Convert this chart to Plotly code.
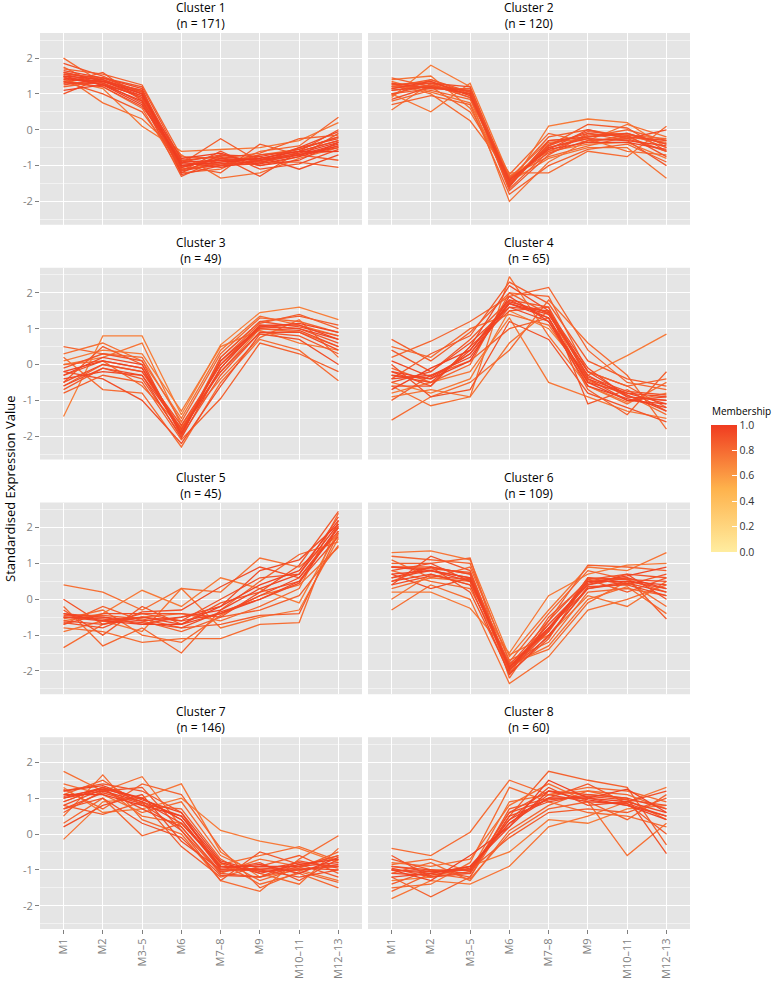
import plotly.graph_objects as go
from plotly.subplots import make_subplots
from plotly.colors import sample_colorscale

# ---------------- data ----------------
categories = ["M1", "M2", "M3\u20135", "M6", "M7\u20138", "M9", "M10\u201311", "M12\u201313"]
cluster_sizes = [171, 120, 49, 65, 45, 109, 146, 60]

cluster1_profiles = [
    [1.45, 1.35, 0.95, -1.0, -0.85, -0.8, -0.6, -0.3],
    [1.6, 1.4, 1.05, -0.9, -0.7, -0.9, -0.7, -0.45],
    [2.0, 1.3, 0.9, -1.1, -0.9, -0.7, -0.55, -0.2],
    [1.0, 1.45, 1.2, -0.85, -1.0, -0.85, -0.65, -0.6],
    [1.3, 1.6, 0.8, -1.3, -0.8, -1.0, -0.75, -0.1],
    [1.75, 1.2, 0.6, -1.2, -1.1, -0.6, -0.45, 0.35],
    [1.5, 0.75, 0.3, -0.7, -1.35, -1.2, -0.8, -0.5],
    [1.2, 1.35, 1.1, -0.95, -0.25, -0.9, -0.9, -1.05],
    [1.85, 1.5, 1.0, -1.05, -0.75, -1.3, -0.6, 0.0],
    [1.4, 1.15, 0.1, -0.6, -0.55, -0.5, -0.3, 0.2],
    [1.55, 1.3, 0.75, -1.15, -0.95, -0.75, -1.1, -0.7],
    [1.1, 1.25, 0.95, -0.8, -0.65, -1.0, -0.85, -0.35],
    [1.65, 1.45, 1.15, -1.25, -1.0, -0.95, -0.5, -0.25],
    [1.35, 1.0, 0.5, -1.0, -1.2, -0.4, -0.7, -0.85],
    [1.7, 1.55, 1.25, -0.75, -0.8, -0.65, -0.25, -0.15],
    [1.25, 1.4, 0.85, -1.15, -0.6, -1.1, -0.95, -0.55],
    [1.5, 1.25, 0.7, -0.9, -1.05, -0.85, -0.7, -0.4],
    [1.4, 1.35, 1.0, -1.0, -0.9, -0.8, -0.6, -0.6],
    [1.5, 1.4, 1.0, -1.05, -0.8, -0.85, -0.65, -0.35],
    [1.3, 1.3, 0.9, -0.95, -0.95, -0.9, -0.7, -0.5],
    [1.6, 1.35, 1.1, -1.2, -0.7, -0.75, -0.55, -0.2],
    [1.45, 1.25, 0.8, -0.9, -0.85, -0.95, -0.75, -0.45],
    [1.55, 1.45, 1.05, -1.1, -1.0, -0.7, -0.6, -0.3],
    [1.35, 1.2, 0.65, -0.85, -0.75, -0.85, -0.5, -0.05],
]
cluster1_membership = [0.95, 0.92, 0.8, 0.9, 0.88, 0.82, 0.78, 0.85, 0.9, 0.75,
                       0.93, 0.97, 0.94, 0.86, 0.84, 0.91, 0.98, 0.99,
                       0.97, 0.96, 0.95, 0.98, 0.93, 0.94]

cluster2_profiles = [
    [1.1, 1.25, 1.0, -1.5, -0.5, -0.2, -0.1, -0.4],
    [1.45, 1.2, 1.1, -1.4, -0.2, 0.0, -0.2, -0.6],
    [0.55, 1.3, 0.9, -2.0, -0.9, -0.3, 0.15, -0.2],
    [1.0, 0.5, 1.3, -1.3, -0.6, -0.4, -0.35, -0.8],
    [0.9, 1.8, 1.2, -1.6, 0.1, 0.3, 0.2, -0.5],
    [1.3, 1.0, 0.25, -1.2, -1.2, -0.6, -0.75, 0.1],
    [1.2, 1.4, 1.05, -1.7, -0.7, -0.1, -0.3, -1.0],
    [0.8, 1.1, 0.85, -1.35, -0.3, -0.2, 0.0, -0.3],
    [1.4, 1.5, 0.6, -1.45, -0.8, -0.5, -0.5, -1.35],
    [1.0, 1.15, 1.15, -1.55, -0.45, 0.15, 0.05, -0.6],
    [1.25, 1.35, 0.95, -1.25, -0.1, -0.35, -0.15, -0.25],
    [0.7, 0.95, 0.7, -1.8, -1.0, -0.55, -0.4, -0.9],
    [1.15, 1.3, 1.2, -1.4, -0.55, 0.0, -0.25, 0.0],
    [1.35, 1.05, 0.75, -1.5, -0.35, -0.25, -0.6, -0.7],
    [0.95, 1.4, 1.0, -1.65, -0.6, -0.15, -0.1, -0.5],
    [1.2, 1.2, 0.5, -1.3, -0.75, -0.45, -0.2, -0.35],
    [1.1, 1.2, 1.0, -1.45, -0.5, -0.25, -0.3, -0.45],
    [1.25, 1.3, 1.05, -1.55, -0.4, -0.1, -0.2, -0.3],
    [1.0, 1.25, 0.9, -1.35, -0.65, -0.3, -0.25, -0.6],
    [1.3, 1.15, 1.1, -1.6, -0.3, -0.2, -0.1, -0.4],
    [1.15, 1.35, 0.95, -1.4, -0.55, -0.35, -0.35, -0.55],
    [0.85, 1.2, 1.0, -1.5, -0.45, -0.05, -0.15, -0.75],
]
cluster2_membership = [0.9, 0.85, 0.78, 0.76, 0.74, 0.8, 0.88, 0.83, 0.77, 0.86,
                       0.82, 0.84, 0.92, 0.79, 0.87, 0.81,
                       0.95, 0.93, 0.9, 0.94, 0.96, 0.91]

cluster3_profiles = [
    [-0.3, 0.1, -0.1, -1.8, 0.0, 1.1, 1.0, 0.6],
    [0.5, 0.3, 0.2, -1.6, 0.3, 1.3, 1.2, 0.9],
    [-0.7, -0.1, -0.4, -2.0, -0.3, 0.9, 0.8, 0.3],
    [-1.45, 0.8, 0.8, -1.4, 0.55, 1.45, 1.6, 1.25],
    [0.2, -0.7, -0.8, -2.3, -0.5, 0.7, 0.4, -0.45],
    [-0.5, 0.5, 0.0, -1.9, 0.2, 1.2, 1.35, 1.1],
    [0.0, 0.2, 0.6, -1.7, -0.2, 1.0, 0.9, 0.5],
    [-0.8, -0.3, -0.5, -2.1, -0.95, 0.6, 0.3, -0.2],
    [0.3, 0.6, 0.1, -1.5, 0.4, 1.35, 1.1, 0.8],
    [-0.2, -0.4, -1.0, -2.2, -0.6, 0.85, 0.7, 0.0],
    [-0.6, 0.0, -0.2, -1.85, 0.1, 1.15, 1.4, 1.0],
    [0.1, 0.4, 0.3, -1.3, 0.5, 0.95, 0.6, 0.4],
    [-0.4, -0.2, -0.3, -2.05, -0.1, 1.05, 1.0, 0.7],
    [0.0, 0.1, -0.6, -1.75, -0.4, 0.75, 1.25, 0.2],
    [-0.3, 0.2, 0.0, -1.9, -0.1, 1.1, 1.1, 0.7],
    [-0.5, 0.0, -0.2, -1.7, 0.0, 1.0, 0.95, 0.5],
    [-0.1, 0.3, 0.1, -2.0, 0.2, 1.2, 1.05, 0.8],
    [-0.6, -0.1, -0.3, -1.8, -0.2, 0.9, 0.9, 0.4],
    [-0.2, 0.1, -0.1, -1.95, 0.1, 1.05, 1.15, 0.9],
]
cluster3_membership = [0.9, 0.82, 0.88, 0.72, 0.8, 0.86, 0.76, 0.84, 0.78, 0.92,
                       0.85, 0.74, 0.95, 0.8,
                       0.96, 0.93, 0.9, 0.94, 0.97]

cluster4_profiles = [
    [-0.3, -0.4, 0.3, 1.6, 1.2, -0.4, -0.8, -0.9],
    [0.7, 0.1, 0.9, 2.0, 1.4, -0.2, -0.6, -1.2],
    [-1.55, -0.9, -0.5, 0.4, 1.8, 0.6, -0.3, -1.8],
    [-0.6, -1.15, -0.9, 2.45, 0.8, -0.6, -1.1, -0.5],
    [0.2, 0.65, 1.2, 1.9, 2.15, 0.4, -0.5, -0.7],
    [-0.8, -0.5, -0.2, 1.3, -0.5, -0.9, -1.3, -1.5],
    [-0.2, -0.6, 0.5, 2.2, 1.5, -0.1, -0.9, -1.0],
    [-1.0, -0.3, 0.1, 1.0, 1.3, -0.7, -1.4, -0.2],
    [0.4, -0.2, 0.7, 1.8, 1.6, -1.1, -0.7, -1.3],
    [-0.5, -0.8, -0.4, 1.5, 1.0, -0.3, 0.25, 0.85],
    [-0.4, 0.3, 0.8, 2.3, 1.7, 0.1, -0.4, -0.6],
    [0.0, -0.9, -0.7, 1.2, 0.7, -0.8, -1.2, -1.6],
    [-0.7, -0.1, 0.4, 1.7, 1.3, -0.5, -1.0, -1.1],
    [-0.1, -0.5, 0.0, 2.0, 1.9, -0.2, -0.6, -0.4],
    [0.5, 0.2, 1.0, 1.4, 1.1, -0.45, -0.85, -1.4],
    [-0.9, -0.7, -0.9, 0.6, 1.5, -0.6, -1.05, -0.8],
    [-0.4, -0.3, 0.2, 1.7, 1.4, -0.3, -0.9, -1.0],
    [-0.3, -0.5, 0.4, 1.8, 1.3, -0.5, -0.8, -1.1],
    [-0.5, -0.2, 0.6, 1.6, 1.5, -0.4, -1.0, -0.9],
    [-0.2, -0.4, 0.1, 1.9, 1.2, -0.6, -0.95, -1.2],
    [-0.6, -0.6, 0.5, 1.5, 1.6, -0.35, -0.75, -0.85],
    [0.1, -0.35, 0.3, 1.75, 1.45, -0.2, -0.85, -1.3],
]
cluster4_membership = [0.95, 0.85, 0.8, 0.78, 0.82, 0.75, 0.93, 0.84, 0.88, 0.74,
                       0.86, 0.9, 0.97, 0.83, 0.8, 0.77,
                       0.96, 0.94, 0.92, 0.97, 0.9, 0.95]

cluster5_profiles = [
    [-0.5, -0.6, -0.5, -0.7, -0.4, 0.0, 0.5, 2.0],
    [0.4, 0.2, -0.3, 0.3, 0.2, 1.15, 0.9, 1.8],
    [-1.35, -0.7, -0.5, -0.4, -0.6, -0.2, 0.3, 2.4],
    [-0.2, -1.3, -0.8, -1.5, -0.3, 0.5, 1.25, 1.6],
    [-0.6, -0.4, 0.25, -0.2, 0.6, 0.3, -0.1, 1.9],
    [-0.8, -0.9, -1.2, -1.1, -1.1, -0.7, -0.65, 2.2],
    [-0.4, -0.5, -0.7, -0.5, -0.2, 0.8, 1.1, 2.1],
    [-0.7, -0.2, -0.6, -0.9, -0.5, -0.3, 0.1, 1.5],
    [0.0, -0.7, -0.4, -0.6, 0.0, 0.6, 0.7, 2.3],
    [-0.9, -0.6, -0.9, 0.3, -0.8, -0.5, -0.3, 1.7],
    [-0.3, -1.0, -0.2, -0.7, -0.1, 0.2, 0.95, 2.45],
    [-0.55, -0.3, -1.0, -1.2, -0.45, 0.1, 0.4, 1.45],
    [-0.65, -0.8, -0.35, -0.3, 0.35, 0.9, 0.6, 2.0],
    [-0.45, -0.45, -0.55, -0.8, -0.7, -0.45, -0.4, 1.85],
    [-0.5, -0.5, -0.6, -0.5, -0.3, 0.3, 0.7, 2.1],
    [-0.6, -0.7, -0.5, -0.6, -0.4, 0.1, 0.6, 1.9],
    [-0.4, -0.6, -0.7, -0.7, -0.2, 0.4, 0.8, 2.2],
    [-0.7, -0.4, -0.4, -0.4, -0.5, 0.2, 0.5, 1.75],
    [-0.5, -0.55, -0.65, -0.8, -0.35, 0.0, 0.45, 2.05],
]
cluster5_membership = [0.95, 0.78, 0.8, 0.82, 0.74, 0.79, 0.93, 0.84, 0.9, 0.76,
                       0.88, 0.8, 0.92, 0.86,
                       0.96, 0.94, 0.97, 0.91, 0.93]

cluster6_profiles = [
    [0.6, 0.8, 0.5, -1.9, -0.8, 0.3, 0.5, 0.3],
    [1.3, 1.35, 1.1, -1.6, -0.3, 0.9, 0.8, 1.3],
    [-0.3, 0.4, 0.0, -2.35, -1.6, -0.3, 0.0, 0.4],
    [0.9, 0.9, 0.7, -2.1, -0.5, 0.5, 0.6, -0.55],
    [0.2, 0.2, -0.25, -1.5, 0.1, 0.7, 0.95, 1.0],
    [1.1, 0.6, 0.9, -1.7, -1.2, 0.2, 0.3, 0.1],
    [0.4, 1.2, 0.8, -2.0, -0.9, 0.6, 0.4, 0.7],
    [0.8, 0.5, 0.3, -1.8, -1.4, -0.1, 0.5, -0.2],
    [1.0, 1.0, 1.15, -2.2, -0.6, 0.95, 0.9, 0.8],
    [0.0, 0.7, 0.4, -1.55, -1.0, 0.1, -0.2, 0.5],
    [0.7, 0.3, 0.6, -1.9, -0.7, 0.4, 0.7, 0.0],
    [0.5, 0.9, 0.2, -2.05, -1.1, 0.55, 0.2, 0.6],
    [1.2, 1.1, 1.0, -1.75, -0.4, 0.8, 0.55, 0.2],
    [0.3, 0.6, 0.5, -1.85, -1.3, 0.0, 0.35, -0.4],
    [0.9, 0.8, 0.6, -1.95, -0.85, 0.45, 0.65, 0.9],
    [0.7, 0.8, 0.6, -1.9, -0.8, 0.5, 0.5, 0.4],
    [0.6, 0.9, 0.7, -2.0, -0.7, 0.4, 0.6, 0.3],
    [0.8, 1.0, 0.5, -1.8, -0.9, 0.6, 0.55, 0.5],
    [0.5, 0.7, 0.4, -2.1, -1.0, 0.3, 0.45, 0.2],
    [0.9, 0.85, 0.75, -1.85, -0.6, 0.55, 0.7, 0.6],
    [0.4, 0.65, 0.55, -1.95, -1.05, 0.35, 0.4, 0.1],
]
cluster6_membership = [0.95, 0.76, 0.78, 0.86, 0.74, 0.82, 0.9, 0.8, 0.84, 0.77,
                       0.92, 0.88, 0.83, 0.79, 0.96,
                       0.97, 0.94, 0.92, 0.95, 0.9, 0.93]

cluster7_profiles = [
    [1.0, 1.3, 0.9, 0.5, -0.9, -1.0, -0.8, -0.9],
    [1.75, 1.2, 1.6, 0.2, -1.1, -0.7, -0.9, -0.6],
    [-0.15, 0.9, 1.0, 1.4, -0.5, -1.2, -1.0, -1.3],
    [0.5, 1.65, 0.4, 0.0, -1.3, -1.6, -0.7, -0.05],
    [1.3, 0.6, 0.7, 1.0, 0.1, -0.2, -0.4, -0.8],
    [0.3, 1.0, -0.05, 0.3, -0.8, -1.4, -1.1, -1.5],
    [1.2, 1.4, 1.2, 0.6, -1.0, -0.8, -1.3, -0.7],
    [0.8, 0.55, 0.9, -0.35, -1.2, -0.9, -0.6, -1.1],
    [1.4, 1.1, 0.6, 0.9, -0.6, -1.1, -1.4, -0.4],
    [0.6, 1.2, 1.3, 0.1, -1.3, -0.5, -0.85, -1.2],
    [1.1, 1.5, 0.8, 0.7, -0.7, -1.3, -0.95, -0.5],
    [0.2, 0.8, 1.1, -0.2, -1.0, -1.0, -1.2, -1.0],
    [0.9, 1.3, 0.5, 0.3, -0.85, -0.6, -0.35, -0.75],
    [1.25, 0.7, 1.4, 1.1, -0.4, -1.5, -1.05, -1.35],
    [0.7, 1.0, 0.3, -0.1, -1.15, -1.2, -0.75, -0.95],
    [1.05, 1.25, 1.0, 0.4, -0.95, -0.85, -1.1, -0.65],
    [1.0, 1.2, 0.9, 0.3, -0.9, -0.9, -0.9, -0.8],
    [0.9, 1.3, 1.0, 0.4, -1.0, -1.0, -1.0, -0.9],
    [1.1, 1.1, 0.8, 0.5, -0.8, -1.1, -0.85, -0.7],
    [0.8, 1.25, 0.7, 0.2, -1.05, -0.95, -0.95, -1.0],
    [1.2, 1.35, 0.95, 0.6, -0.75, -1.05, -1.0, -0.85],
    [0.7, 1.15, 0.85, 0.1, -1.1, -1.2, -0.9, -0.6],
]
cluster7_membership = [0.95, 0.78, 0.76, 0.8, 0.74, 0.82, 0.9, 0.86, 0.8, 0.88,
                       0.84, 0.92, 0.79, 0.83, 0.9, 0.97,
                       0.96, 0.94, 0.98, 0.93, 0.95, 0.91]

cluster8_profiles = [
    [-1.0, -1.1, -0.9, 0.3, 1.0, 1.0, 0.8, 0.5],
    [-0.4, -0.6, 0.05, 1.5, 1.1, 1.3, 1.2, 0.9],
    [-1.8, -1.3, -1.4, -0.9, 0.2, 0.5, 0.9, 1.3],
    [-1.2, -1.75, -1.2, 0.5, 1.75, 1.5, 1.3, -0.3],
    [-0.8, -0.9, -0.7, 0.8, 1.4, 0.9, -0.6, 0.3],
    [-1.4, -1.0, -1.0, -0.1, 0.6, 0.7, 0.6, 1.0],
    [-0.6, -1.2, -1.1, 0.6, 1.2, 1.1, 1.0, -0.55],
    [-1.1, -0.8, -1.3, 0.1, 0.8, 1.2, 1.1, 0.7],
    [-1.5, -1.4, -0.8, 1.3, 0.9, 0.6, 0.5, 0.2],
    [-0.9, -1.05, -1.0, 0.4, 1.3, 0.8, 0.9, 1.2],
    [-1.3, -1.2, -0.9, -0.5, 0.4, 0.3, 0.7, 0.8],
    [-0.7, -1.0, -1.2, 0.7, 1.0, 1.4, 0.85, 0.0],
    [-1.0, -1.3, -0.6, 0.2, 1.5, 1.0, 1.25, 0.6],
    [-1.6, -1.1, -1.25, 0.0, 0.7, 0.9, 0.4, 1.1],
    [-0.85, -0.7, -1.05, 0.9, 1.1, 1.2, 0.95, 0.4],
    [-1.0, -1.05, -1.0, 0.4, 1.0, 1.0, 0.9, 0.6],
    [-1.1, -1.15, -0.95, 0.3, 1.1, 0.9, 0.85, 0.5],
    [-0.9, -1.0, -1.1, 0.5, 0.9, 1.1, 1.0, 0.7],
    [-1.2, -1.1, -0.9, 0.2, 1.2, 0.95, 0.8, 0.4],
    [-0.95, -1.2, -1.05, 0.6, 0.95, 1.05, 0.95, 0.8],
]
cluster8_membership = [0.95, 0.8, 0.76, 0.84, 0.78, 0.86, 0.9, 0.82, 0.8, 0.92,
                       0.74, 0.88, 0.97, 0.83, 0.79,
                       0.96, 0.94, 0.93, 0.97, 0.91]

all_profiles = [cluster1_profiles, cluster2_profiles, cluster3_profiles, cluster4_profiles,
                cluster5_profiles, cluster6_profiles, cluster7_profiles, cluster8_profiles]
all_membership = [cluster1_membership, cluster2_membership, cluster3_membership,
                  cluster4_membership, cluster5_membership, cluster6_membership,
                  cluster7_membership, cluster8_membership]

y_ticks = [-2, -1, 0, 1, 2]
y_ticktext = ["-2", "-1", "0", "1", "2"]
colorbar_ticks = [0.0, 0.2, 0.4, 0.6, 0.8, 1.0]

# ---------------- style ----------------
FONT = "Open Sans"
colorscale = [[0.0, "#FFEDA0"], [0.5, "#FEB24C"], [1.0, "#F03B20"]]
W, H = 774, 981
ML, MR, MT, MB = 40, 84, 33, 52
plot_w = W - ML - MR
plot_h = H - MT - MB


def py_to_paper(py):
    return (MT + plot_h - py) / plot_h


def paper_to_py(p):
    return MT + (1 - p) * plot_h


fig = make_subplots(rows=4, cols=2,
                    horizontal_spacing=6 / plot_w, vertical_spacing=43 / plot_h,
                    shared_xaxes=True, shared_yaxes=True)

for k, (profiles, memb) in enumerate(zip(all_profiles, all_membership)):
    r, c = k // 2 + 1, k % 2 + 1
    order = sorted(range(len(profiles)), key=lambda i: memb[i])
    for i in order:
        col = sample_colorscale(colorscale, [memb[i]])[0]
        fig.add_trace(go.Scatter(x=categories, y=profiles[i], mode="lines",
                                 line=dict(color=col, width=1.3),
                                 showlegend=False, hoverinfo="skip"),
                      row=r, col=c)

# panel titles (two lines each)
for k, n in enumerate(cluster_sizes):
    r, c = k // 2 + 1, k % 2 + 1
    sp = fig.get_subplot(r, c)
    top_px = paper_to_py(sp.yaxis.domain[1])
    xref = sp.xaxis.plotly_name.replace("axis", "") + " domain"
    fig.add_annotation(text=f"Cluster {k + 1}<br>(n = {n})", xref=xref, x=0.5, yref="paper",
                       y=py_to_paper(top_px - 17.5), xanchor="center", yanchor="middle",
                       showarrow=False, borderpad=0,
                       font=dict(family=FONT, size=12, color="#000000"))

# dummy trace for the colour bar
fig.add_trace(go.Scatter(
    x=[categories[0]], y=[None], mode="markers", showlegend=False, hoverinfo="skip",
    marker=dict(color=[1.0], cmin=0, cmax=1, colorscale=colorscale, showscale=True,
                colorbar=dict(
                    x=(711 - ML) / plot_w, xanchor="left",
                    y=py_to_paper(488.5), yanchor="middle",
                    len=127, lenmode="pixels", thickness=26, thicknessmode="pixels",
                    xpad=0, ypad=0, outlinewidth=0,
                    tickvals=colorbar_ticks, ticktext=[f"{v:.1f}" for v in colorbar_ticks],
                    ticks="inside", ticklen=5, tickcolor="white", tickwidth=1,
                    tickfont=dict(family=FONT, size=10.5, color="#333333"),
                ))),
    row=1, col=1)

fig.update_xaxes(type="category", categoryorder="array", categoryarray=categories,
                 range=[-0.6, 7.6], showgrid=True, gridcolor="white", gridwidth=1.2,
                 zeroline=False, showline=False, ticks="", ticklen=4,
                 tickcolor="#7F7F7F", tickwidth=1, tickangle=-90, automargin=False,
                 tickfont=dict(family=FONT, size=11, color="#7F7F7F"))
fig.update_xaxes(ticks="outside", row=4)
fig.update_yaxes(range=[-2.65, 2.7], tickvals=y_ticks, ticktext=y_ticktext,
                 showgrid=True, gridcolor="white", gridwidth=1.2, zeroline=False,
                 showline=False, ticks="", ticklen=4, tickcolor="#7F7F7F",
                 tickwidth=1, automargin=False,
                 tickfont=dict(family=FONT, size=11, color="#7F7F7F"),
                 minor=dict(dtick=0.5, tick0=0.5, showgrid=True, gridcolor="#F2F2F2",
                            gridwidth=0.6, ticks=""))
fig.update_yaxes(ticks="outside", col=1)

fig.add_annotation(text="Standardised Expression Value", textangle=-90,
                   xref="paper", yref="paper", x=(10 - ML) / plot_w,
                   y=py_to_paper(489), xanchor="center", yanchor="middle",
                   showarrow=False, font=dict(family=FONT, size=13, color="#000000"))
fig.add_annotation(text="Membership", xref="paper", yref="paper",
                   x=(710 - ML) / plot_w, y=py_to_paper(411),
                   xanchor="left", yanchor="middle", showarrow=False,
                   font=dict(family=FONT, size=10, color="#000000"))

fig.update_layout(template="none", width=W, height=H,
                  margin=dict(l=ML, r=MR, t=MT, b=MB, autoexpand=False),
                  plot_bgcolor="#E5E5E5", paper_bgcolor="white",
                  font=dict(family=FONT), showlegend=False)

fig.write_html("out.html", config={"displayModeBar": False},
               post_script="document.body.style.margin='0';document.body.style.overflow='hidden';")
